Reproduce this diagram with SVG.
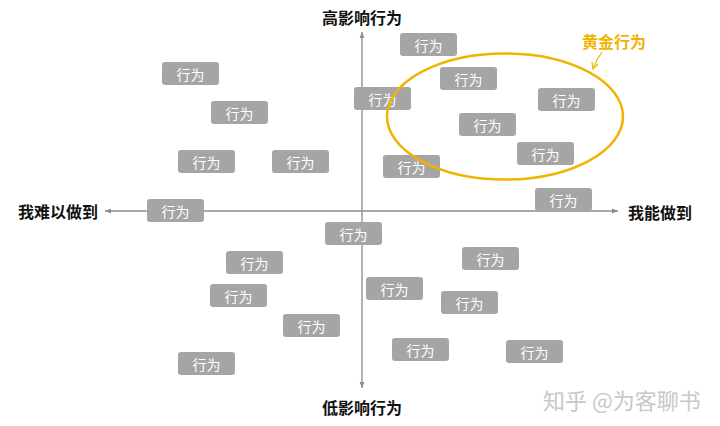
<svg xmlns="http://www.w3.org/2000/svg" width="720" height="426" viewBox="0 0 720 426">
<defs>
<style>
.b rect{fill:#a5a5a5;}
.b text{fill:#ffffff;font-family:"Noto Sans CJK SC","Liberation Sans",sans-serif;font-size:14px;text-anchor:middle;dominant-baseline:central;}
.ax{stroke:#8c8c8c;stroke-width:1.3;fill:none;}
.lbl{font-family:"Noto Sans CJK SC","Liberation Sans",sans-serif;font-size:16px;font-weight:bold;fill:#111;dominant-baseline:central;}
</style>
<marker id="ah" viewBox="0 0 10 10" refX="10" refY="5" markerWidth="6" markerHeight="6" orient="auto-start-reverse" markerUnits="userSpaceOnUse">
<path d="M0,1 L10,5 L0,9 Z" fill="#8c8c8c"/>
</marker>
<marker id="gh" viewBox="0 0 10 10" refX="9" refY="5" markerWidth="8" markerHeight="8" orient="auto" markerUnits="userSpaceOnUse">
<path d="M1,1 L9,5 L1,9" fill="none" stroke="#f0b400" stroke-width="1.5"/>
</marker>
</defs>
<rect width="720" height="426" fill="#ffffff"/>
<g id="connectors">
<line class="ax" x1="362" y1="32" x2="362" y2="388" marker-start="url(#ah)" marker-end="url(#ah)"/>
<line class="ax" x1="105" y1="211" x2="618" y2="211" marker-start="url(#ah)" marker-end="url(#ah)"/>
</g>
<g id="labels">
<text class="lbl" x="362" y="17" text-anchor="middle">高影响行为</text>
<text class="lbl" x="362" y="407" text-anchor="middle">低影响行为</text>
<text class="lbl" x="18" y="211">我难以做到</text>
<text class="lbl" x="628" y="212">我能做到</text>
</g>
<g id="nodes">
<g id="n1" class="b"><rect x="400" y="33" width="57" height="23" rx="3"/><text x="428.5" y="44.5">行为</text></g>
<g id="n2" class="b"><rect x="440" y="67" width="57" height="23" rx="3"/><text x="468.5" y="78.5">行为</text></g>
<g id="n3" class="b"><rect x="354" y="87" width="57" height="23" rx="3"/><text x="382.5" y="98.5">行为</text></g>
<g id="n4" class="b"><rect x="538" y="88" width="57" height="23" rx="3"/><text x="566.5" y="99.5">行为</text></g>
<g id="n5" class="b"><rect x="459" y="113" width="57" height="23" rx="3"/><text x="487.5" y="124.5">行为</text></g>
<g id="n6" class="b"><rect x="517" y="142" width="57" height="23" rx="3"/><text x="545.5" y="153.5">行为</text></g>
<g id="n7" class="b"><rect x="383" y="155" width="57" height="23" rx="3"/><text x="411.5" y="166.5">行为</text></g>
<g id="n8" class="b"><rect x="535" y="188" width="57" height="23" rx="3"/><text x="563.5" y="199.5">行为</text></g>
<g id="n9" class="b"><rect x="162" y="62" width="57" height="23" rx="3"/><text x="190.5" y="73.5">行为</text></g>
<g id="n10" class="b"><rect x="211" y="101" width="57" height="23" rx="3"/><text x="239.5" y="112.5">行为</text></g>
<g id="n11" class="b"><rect x="178" y="150" width="57" height="23" rx="3"/><text x="206.5" y="161.5">行为</text></g>
<g id="n12" class="b"><rect x="272" y="150" width="57" height="23" rx="3"/><text x="300.5" y="161.5">行为</text></g>
<g id="n13" class="b"><rect x="147" y="199" width="57" height="23" rx="3"/><text x="175.5" y="210.5">行为</text></g>
<g id="n14" class="b"><rect x="325" y="222" width="57" height="23" rx="3"/><text x="353.5" y="233.5">行为</text></g>
<g id="n15" class="b"><rect x="226" y="251" width="57" height="23" rx="3"/><text x="254.5" y="262.5">行为</text></g>
<g id="n16" class="b"><rect x="462" y="247" width="57" height="23" rx="3"/><text x="490.5" y="258.5">行为</text></g>
<g id="n17" class="b"><rect x="210" y="284" width="57" height="23" rx="3"/><text x="238.5" y="295.5">行为</text></g>
<g id="n18" class="b"><rect x="366" y="277" width="57" height="23" rx="3"/><text x="394.5" y="288.5">行为</text></g>
<g id="n19" class="b"><rect x="441" y="291" width="57" height="23" rx="3"/><text x="469.5" y="302.5">行为</text></g>
<g id="n20" class="b"><rect x="283" y="314" width="57" height="23" rx="3"/><text x="311.5" y="325.5">行为</text></g>
<g id="n21" class="b"><rect x="392" y="338" width="57" height="23" rx="3"/><text x="420.5" y="349.5">行为</text></g>
<g id="n22" class="b"><rect x="506" y="340" width="57" height="23" rx="3"/><text x="534.5" y="351.5">行为</text></g>
<g id="n23" class="b"><rect x="178" y="352" width="57" height="23" rx="3"/><text x="206.5" y="363.5">行为</text></g>
</g>
<g id="golden">
<ellipse cx="505" cy="116.5" rx="118" ry="63" fill="none" stroke="#f0b400" stroke-width="2.5"/>
<path d="M602,52 Q596,60 593,69" fill="none" stroke="#f0b400" stroke-width="1.2" marker-end="url(#gh)"/>
<text x="582" y="41" font-family="Noto Sans CJK SC,Liberation Sans,sans-serif" font-size="16" font-weight="bold" fill="#f0b400" dominant-baseline="central">黄金行为</text>
</g>
<text x="543" y="399" font-family="Noto Sans CJK SC,Liberation Sans,sans-serif" font-size="22" fill="#c8c8c8" dominant-baseline="central">知乎 @为客聊书</text>
</svg>
